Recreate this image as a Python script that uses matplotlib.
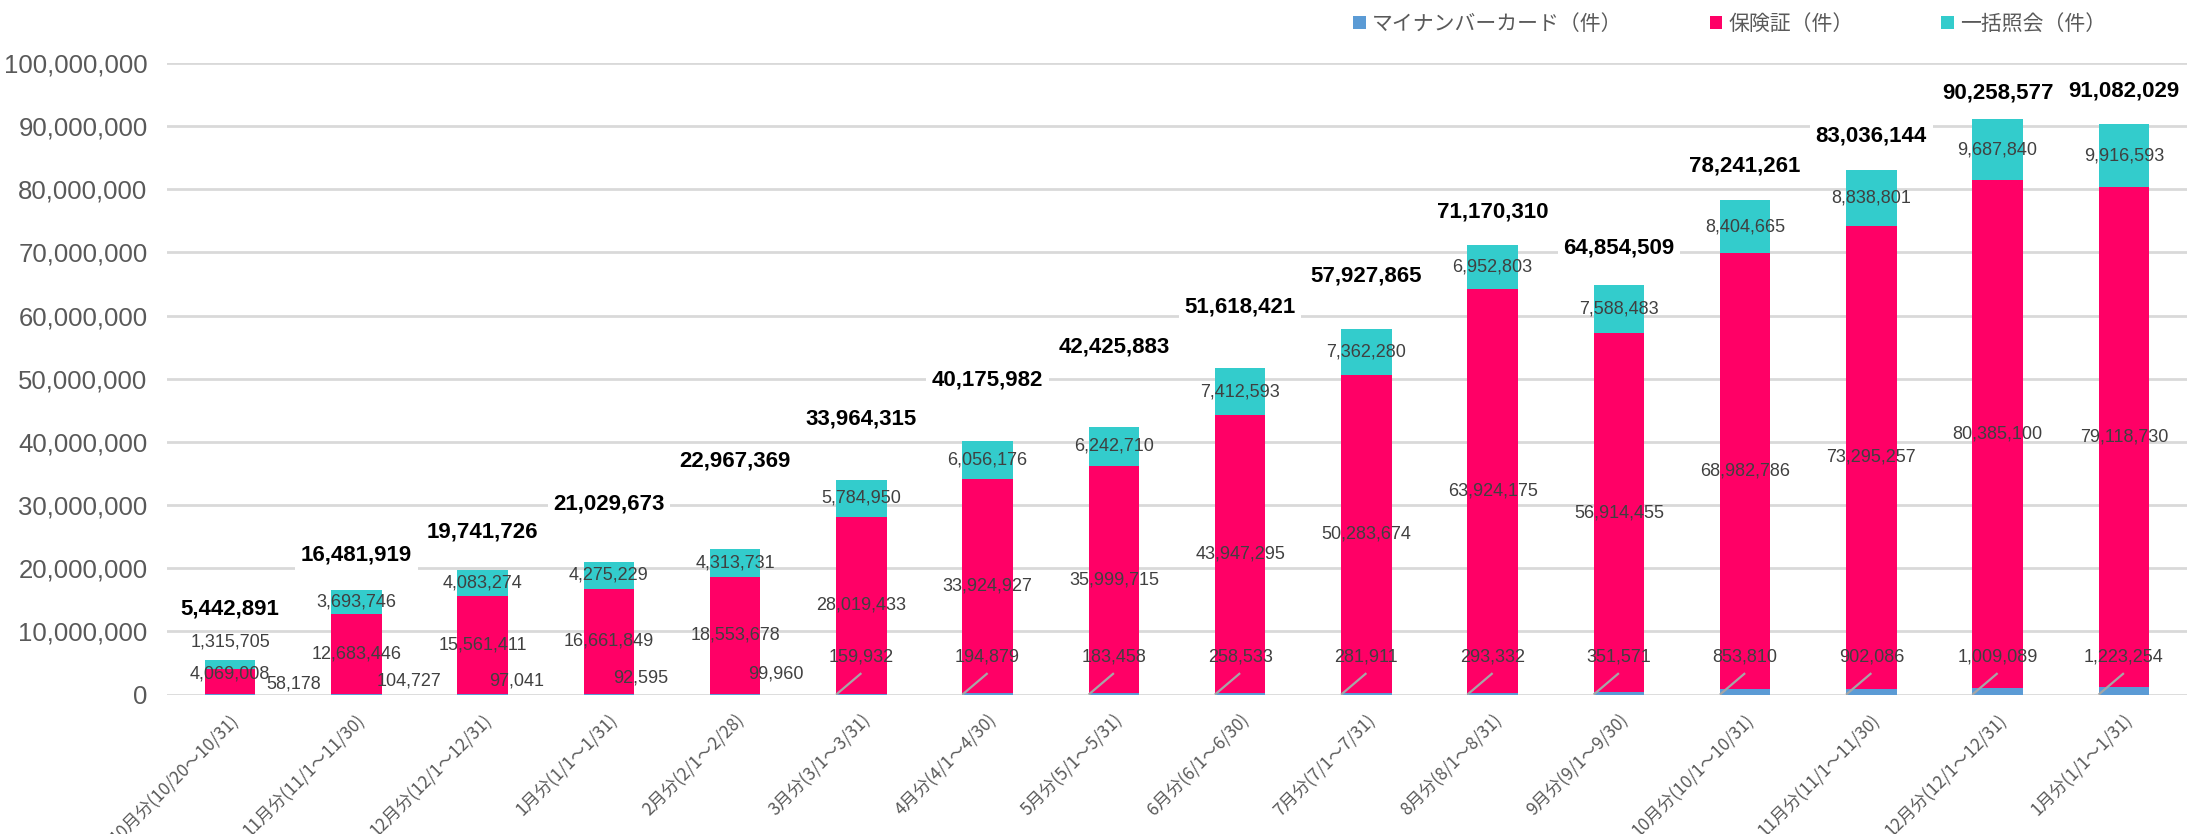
import matplotlib
matplotlib.use("Agg")
import matplotlib.pyplot as plt
import numpy as np
from matplotlib.ticker import FuncFormatter, MultipleLocator

# ---------------- data ----------------
categories = ["10月分(10/20～10/31)", "11月分(11/1～11/30)", "12月分(12/1～12/31)",
              "1月分(1/1～1/31)", "2月分(2/1～2/28)", "3月分(3/1～3/31)",
              "4月分(4/1～4/30)", "5月分(5/1～5/31)", "6月分(6/1～6/30)",
              "7月分(7/1～7/31)", "8月分(8/1～8/31)", "9月分(9/1～9/30)",
              "10月分(10/1～10/31)", "11月分(11/1～11/30)", "12月分(12/1～12/31)",
              "1月分(1/1～1/31)"]
mynumber = [58178, 104727, 97041, 92595, 99960, 159932, 194879, 183458,
            258533, 281911, 293332, 351571, 853810, 902086, 1009089, 1223254]
hoken = [4069008, 12683446, 15561411, 16661849, 18553678, 28019433, 33924927,
         35999715, 43947295, 50283674, 63924175, 56914455, 68982786, 73295257,
         80385100, 79118730]
ikkatsu = [1315705, 3693746, 4083274, 4275229, 4313731, 5784950, 6056176,
           6242710, 7412593, 7362280, 6952803, 7588483, 8404665, 8838801,
           9687840, 9916593]
totals = [5442891, 16481919, 19741726, 21029673, 22967369, 33964315, 40175982,
          42425883, 51618421, 57927865, 71170310, 64854509, 78241261, 83036144,
          90258577, 91082029]
series_names = ["マイナンバーカード（件）", "保険証（件）", "一括照会（件）"]

# ---------------- layout / style ----------------
C_MY = "#5B9BD5"
C_HO = "#FF0066"
C_IK = "#33CCCC"
GRID = "#D9D9D9"
TXT = "#595959"
LBL = "#404040"
# label placement tweaks (offsets, in millions of units)
total_lift = [8.1, 5.6, 6.0, 9.2, 14.0, 9.6, 9.6, 12.6, 9.8, 8.4, 5.2, 5.8, 5.5, 5.3, 4.1, 5.2]
small_dx = [0.50, 0.42, 0.27, 0.25, 0.32]
small_y = [1.7, 2.2, 2.2, 2.7, 3.2]
leader_label_y = 5.9
leader_top = 3.4

W, H = 2187, 834
fig = plt.figure(figsize=(W / 100, H / 100), dpi=100)
left, right = 167, 2187
bottom_px, top_px = 694.6, 62.8
ax = fig.add_axes([left / W, (H - bottom_px) / H, (right - left) / W, (bottom_px - top_px) / H])

x = np.arange(len(categories))
my = np.array(mynumber, dtype=float)
ho = np.array(hoken, dtype=float)
ik = np.array(ikkatsu, dtype=float)
bw = 0.40

b1 = ax.bar(x, my, bw, color=C_MY, zorder=3, label=series_names[0])
b2 = ax.bar(x, ho, bw, bottom=my, color=C_HO, zorder=3, label=series_names[1])
b3 = ax.bar(x, ik, bw, bottom=my + ho, color=C_IK, zorder=3, label=series_names[2])

ax.set_xlim(-0.5, len(categories) - 0.5)
ax.set_ylim(0, 100_000_000)
ax.yaxis.set_major_locator(MultipleLocator(10_000_000))
ax.yaxis.set_major_formatter(FuncFormatter(lambda v, p: f"{int(round(v)):,}"))
ax.grid(axis="y", color=GRID, linewidth=2.0, zorder=0)
ax.set_axisbelow(True)
for s in ax.spines.values():
    s.set_visible(False)
ax.tick_params(axis="both", length=0)
ax.tick_params(axis="y", pad=14, labelsize=18.5, labelcolor=TXT)
for t in ax.get_yticklabels():
    t.set_fontfamily(["Liberation Sans", "DejaVu Sans"])

ax.set_xticks(x)
ax.set_xticklabels(categories, rotation=45, ha="right", va="top",
                   rotation_mode="anchor", fontsize=12.5, color=TXT,
                   family=["Noto Sans CJK JP", "DejaVu Sans"])
ax.tick_params(axis="x", pad=12)

lab_font = dict(fontsize=13, color=LBL, family=["Liberation Sans", "DejaVu Sans"],
                ha="center", va="center", zorder=5)
M = 1_000_000
for i in range(len(x)):
    # hoken label (centre of segment)
    hy = my[i] + ho[i] / 2
    if i == 0:
        hy += 1.1 * M
    ax.text(x[i], hy, f"{hoken[i]:,}", **lab_font)
    # ikkatsu label
    iy = my[i] + ho[i] + ik[i] / 2
    if i == 0:
        iy = my[i] + ho[i] + ik[i] + 2.9 * M
    ax.text(x[i], iy, f"{ikkatsu[i]:,}", **lab_font)
    # mynumber label
    if i < len(small_dx):
        ax.text(x[i] + small_dx[i], small_y[i] * M, f"{mynumber[i]:,}", **lab_font)
    else:
        ax.plot([x[i] - bw / 2, x[i]], [0, leader_top * M], color="#A6A6A6",
                linewidth=1.6, zorder=4, solid_capstyle="butt")
        ax.text(x[i], leader_label_y * M, f"{mynumber[i]:,}", **lab_font)
    # total label
    top = my[i] + ho[i] + ik[i]
    ax.text(x[i], top + total_lift[i] * M, f"{totals[i]:,}", fontsize=16,
            fontweight="bold", color="black", family=["Liberation Sans", "DejaVu Sans"],
            ha="center", va="center", zorder=6,
            bbox=dict(boxstyle="square,pad=0.25", facecolor="white", edgecolor="none"))

leg = fig.legend(handles=[b1, b2, b3], labels=series_names, loc="center left",
                 bbox_to_anchor=(1353 / W, 1 - 24 / H), ncol=3, frameon=False,
                 handlelength=0.6, handleheight=0.6, handletextpad=0.3,
                 columnspacing=4.2, borderpad=0, borderaxespad=0,
                 prop={"family": ["Noto Sans CJK JP", "DejaVu Sans"], "size": 15})
for t in leg.get_texts():
    t.set_color(TXT)

fig.savefig("out.png", dpi=100, facecolor="white")
